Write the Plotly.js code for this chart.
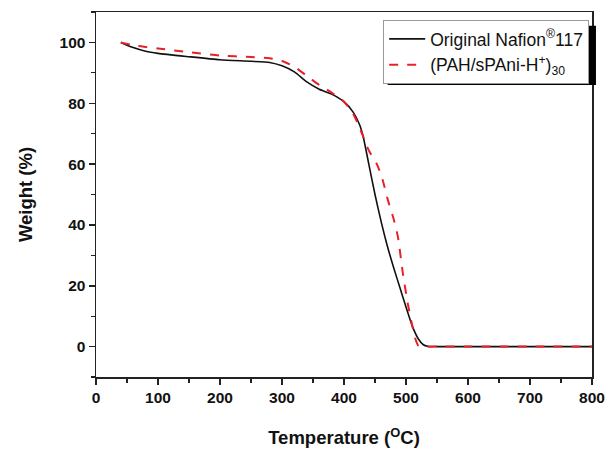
<!DOCTYPE html>
<html>
<head>
<meta charset="utf-8">
<script src="https://cdn.plot.ly/plotly-3.0.1.min.js"></script>
<style>html,body{margin:0;padding:0;background:#fff;}#chart{width:608px;height:449px;}</style>
</head>
<body>
<div id="chart"></div>
<script>
// Original Nafion 117 (black solid)
const nafionTemp = [40, 60, 80, 100, 150, 200, 250, 280, 300, 320, 340, 360, 380, 400, 415, 425, 431, 440, 450, 460, 470, 480, 490, 500, 511, 520, 528, 535, 550, 600, 700, 800];
const nafionWeight = [100, 98.3, 97.1, 96.4, 95.3, 94.3, 93.8, 93.4, 92.3, 90.3, 87, 84.6, 83, 80.5, 77, 73, 69, 60, 50, 41, 33, 26, 19.5, 13, 6.3, 2.5, 0.6, 0.1, 0, 0, 0, 0];
// (PAH/sPAni-H+)30 (red dashed)
const pahTemp = [40, 60, 80, 100, 150, 200, 250, 280, 300, 320, 340, 360, 380, 400, 415, 425, 431, 440, 453, 462, 471, 480, 487, 495, 503, 510, 516, 520, 525, 550, 600, 700, 800];
const pahWeight = [100, 99.1, 98.5, 98, 96.8, 95.7, 95.2, 94.8, 93.9, 92, 89, 86, 83.5, 80.5, 76.5, 72, 69, 64.5, 60, 55, 48, 42, 36, 24, 14, 7, 2, 0.3, 0, 0, 0, 0, 0];

const names = ['Original Nafion<sup>®</sup>117', '(PAH/sPAni-H<sup>+</sup>)<sub>30</sub>'];
const xTicks = [0, 100, 200, 300, 400, 500, 600, 700, 800];
const yTicks = [0, 20, 40, 60, 80, 100];

const traces = [
  {x: nafionTemp, y: nafionWeight, name: names[0], type: 'scatter', mode: 'lines',
   line: {color: '#111111', width: 1.6, shape: 'spline', smoothing: 0.6}},
  {x: pahTemp, y: pahWeight, name: names[1], type: 'scatter', mode: 'lines',
   line: {color: '#e8202a', width: 2, dash: 'dash', shape: 'spline', smoothing: 0.6}}
];

const FAM = 'Liberation Sans, Arial, sans-serif';
const axisFont = {family: FAM, size: 15.5, color: '#111'};
const layout = {
  width: 608, height: 449,
  margin: {l: 96, r: 16, t: 12, b: 72, pad: 0},
  paper_bgcolor: '#fff', plot_bgcolor: '#fff',
  showlegend: true,
  font: {family: FAM, color: '#111'},
  xaxis: {
    range: [0, 800], tickvals: xTicks, ticktext: xTicks.map(v => '<b>' + v + '</b>'),
    ticks: 'outside', ticklen: 6, tickwidth: 1.5, tickcolor: '#222',
    minor: {dtick: 50, ticks: 'outside', ticklen: 4, tickwidth: 1.2, tickcolor: '#222'},
    showline: true, linecolor: '#222', linewidth: 1.5, mirror: true,
    showgrid: false, zeroline: false, tickfont: axisFont,
    title: {text: '<b>Temperature (<sup>O</sup>C)</b>', font: {family: FAM, size: 18.5, color: '#111'}, standoff: 26}
  },
  yaxis: {
    range: [-10, 110], tickvals: yTicks, ticktext: yTicks.map(v => '<b>' + v + '</b>'),
    ticks: 'outside', ticklen: 6, tickwidth: 1.5, tickcolor: '#222',
    minor: {dtick: 10, ticks: 'outside', ticklen: 4, tickwidth: 1.2, tickcolor: '#222'},
    showline: true, linecolor: '#222', linewidth: 1.5, mirror: true,
    showgrid: false, zeroline: false, tickfont: axisFont,
    title: {text: '<b>Weight (%)</b>', font: {family: FAM, size: 18.5, color: '#111'}, standoff: 22}
  },
  legend: {
    x: 0.579, y: 0.978, xanchor: 'left', yanchor: 'top',
    bgcolor: '#ffffff', bordercolor: '#999', borderwidth: 1,
    font: {family: FAM, size: 17.5, color: '#111'},
    tracegroupgap: 0, itemwidth: 36
  },
  shapes: [
    {type: 'rect', xref: 'paper', yref: 'paper', x0: 0.588, x1: 1.008, y0: 0.80, y1: 0.962,
     fillcolor: '#000', line: {width: 0}, layer: 'above'}
  ]
};

Plotly.newPlot('chart', traces, layout, {displayModeBar: false, staticPlot: true});
</script>
</body>
</html>
